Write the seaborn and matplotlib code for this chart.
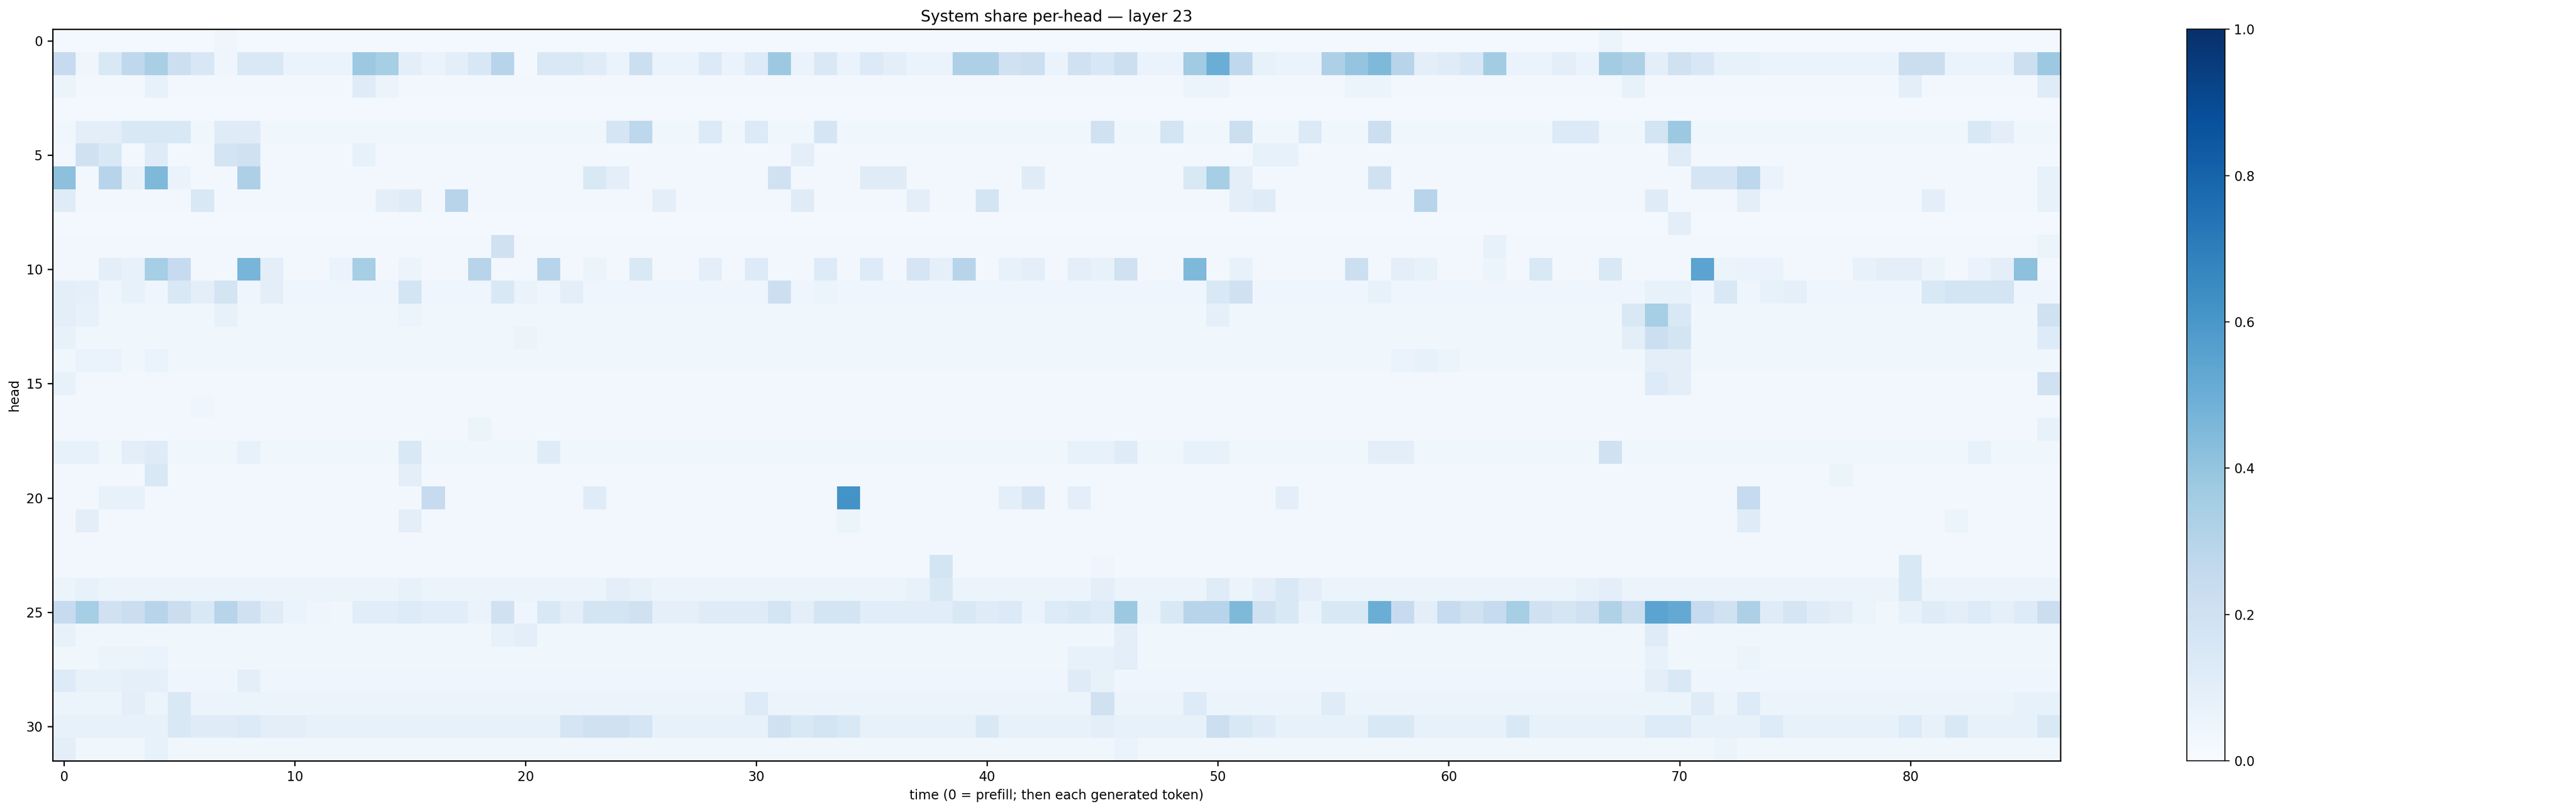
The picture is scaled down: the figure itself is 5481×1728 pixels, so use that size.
import numpy as np
import matplotlib
matplotlib.use("Agg")
import matplotlib.pyplot as plt
import seaborn as sns

n_heads = 32
n_steps = 87

# typical (background) share per head
row_base = [0.02, 0.07, 0.03, 0.02, 0.04, 0.03, 0.03, 0.03, 0.02, 0.03,
            0.03, 0.05, 0.04, 0.04, 0.04, 0.03, 0.03, 0.03, 0.04, 0.03,
            0.03, 0.03, 0.03, 0.03, 0.06, 0.11, 0.04, 0.04, 0.05, 0.06,
            0.08, 0.04]

# visible brighter cells: head -> {time: share}
peaks = {
    0: {7: 0.05, 67: 0.06},
    1: {0: 0.25, 1: 0.05, 2: 0.15, 3: 0.27, 4: 0.34, 5: 0.22, 6: 0.16, 7: 0.05, 8: 0.15, 9: 0.15,
        13: 0.38, 14: 0.35, 15: 0.1, 17: 0.1, 18: 0.16, 19: 0.3, 20: 0.02, 21: 0.15, 22: 0.15,
        23: 0.12, 25: 0.22, 28: 0.14, 30: 0.13, 31: 0.38, 33: 0.15, 35: 0.14, 36: 0.1,
        39: 0.33, 40: 0.33, 41: 0.2, 42: 0.22, 44: 0.2, 45: 0.16, 46: 0.22, 49: 0.37, 50: 0.5,
        51: 0.27, 52: 0.08, 55: 0.33, 56: 0.4, 57: 0.45, 58: 0.3, 59: 0.1, 60: 0.12, 61: 0.16,
        62: 0.36, 65: 0.1, 67: 0.36, 68: 0.33, 69: 0.1, 70: 0.2, 71: 0.16, 72: 0.08, 73: 0.08,
        80: 0.23, 81: 0.23, 85: 0.22, 86: 0.38},
    2: {0: 0.06, 4: 0.08, 13: 0.12, 14: 0.06, 49: 0.06, 50: 0.06, 56: 0.06, 57: 0.06,
        68: 0.08, 80: 0.1, 86: 0.12},
    4: {1: 0.1, 2: 0.1, 3: 0.15, 4: 0.15, 5: 0.15, 7: 0.12, 8: 0.12, 24: 0.17, 25: 0.28,
        28: 0.14, 30: 0.14, 33: 0.17, 45: 0.2, 48: 0.18, 51: 0.22, 54: 0.14, 57: 0.22,
        65: 0.14, 66: 0.14, 69: 0.18, 70: 0.38, 83: 0.15, 84: 0.1},
    5: {1: 0.2, 2: 0.15, 4: 0.12, 7: 0.18, 8: 0.2, 13: 0.08, 32: 0.1, 52: 0.08, 53: 0.08, 70: 0.12},
    6: {0: 0.42, 2: 0.3, 3: 0.08, 4: 0.45, 5: 0.07, 8: 0.33, 23: 0.15, 24: 0.1, 31: 0.2,
        35: 0.12, 36: 0.12, 42: 0.12, 49: 0.15, 50: 0.35, 51: 0.1, 57: 0.2,
        71: 0.17, 72: 0.17, 73: 0.28, 74: 0.07, 86: 0.08},
    7: {0: 0.12, 6: 0.15, 14: 0.1, 15: 0.12, 17: 0.3, 26: 0.1, 32: 0.12, 37: 0.1, 40: 0.18,
        51: 0.1, 52: 0.12, 59: 0.3, 69: 0.12, 73: 0.1, 81: 0.1, 86: 0.08},
    8: {70: 0.1},
    9: {19: 0.2, 62: 0.08, 86: 0.06},
    10: {2: 0.1, 3: 0.08, 4: 0.35, 5: 0.25, 8: 0.47, 9: 0.1, 12: 0.07, 13: 0.35, 15: 0.06,
         18: 0.3, 21: 0.3, 23: 0.06, 25: 0.15, 28: 0.1, 30: 0.13, 33: 0.13, 35: 0.13, 37: 0.17,
         38: 0.09, 39: 0.3, 41: 0.08, 42: 0.1, 44: 0.1, 45: 0.08, 46: 0.2, 49: 0.45, 51: 0.08,
         56: 0.22, 58: 0.1, 59: 0.08, 62: 0.06, 64: 0.15, 67: 0.15, 71: 0.55, 72: 0.06,
         73: 0.07, 74: 0.07, 78: 0.08, 79: 0.1, 80: 0.1, 81: 0.06, 83: 0.07, 84: 0.1, 85: 0.42},
    11: {0: 0.1, 1: 0.09, 3: 0.08, 5: 0.15, 6: 0.1, 7: 0.18, 9: 0.1, 15: 0.18, 19: 0.15,
         20: 0.07, 22: 0.1, 31: 0.22, 33: 0.06, 50: 0.15, 51: 0.2, 57: 0.08,
         69: 0.08, 70: 0.08, 72: 0.15, 74: 0.08, 75: 0.09, 81: 0.15, 82: 0.18, 83: 0.18, 84: 0.18},
    12: {0: 0.1, 1: 0.08, 7: 0.08, 15: 0.06, 50: 0.09, 68: 0.15, 69: 0.35, 70: 0.15, 86: 0.2},
    13: {0: 0.08, 20: 0.06, 68: 0.1, 69: 0.22, 70: 0.18, 86: 0.13},
    14: {1: 0.07, 2: 0.07, 4: 0.07, 58: 0.07, 59: 0.08, 60: 0.06, 69: 0.1, 70: 0.1},
    15: {0: 0.08, 69: 0.13, 70: 0.1, 86: 0.2},
    16: {6: 0.05},
    17: {18: 0.06, 86: 0.08},
    18: {0: 0.08, 1: 0.08, 3: 0.1, 4: 0.12, 8: 0.08, 15: 0.15, 21: 0.12, 44: 0.08, 45: 0.08,
         46: 0.12, 49: 0.08, 50: 0.08, 57: 0.1, 58: 0.1, 67: 0.2, 83: 0.08},
    19: {4: 0.15, 15: 0.1, 77: 0.06},
    20: {2: 0.08, 3: 0.08, 16: 0.25, 23: 0.12, 34: 0.62, 41: 0.1, 42: 0.17, 44: 0.1,
         53: 0.1, 73: 0.25},
    21: {1: 0.1, 15: 0.1, 34: 0.06, 73: 0.12, 82: 0.06},
    23: {38: 0.18, 45: 0.05, 80: 0.15},
    24: {1: 0.08, 15: 0.08, 24: 0.1, 25: 0.08, 37: 0.08, 38: 0.15, 45: 0.1, 50: 0.12,
         52: 0.1, 53: 0.15, 54: 0.1, 66: 0.08, 67: 0.1, 80: 0.15},
    25: {0: 0.25, 1: 0.35, 2: 0.2, 3: 0.23, 4: 0.3, 5: 0.23, 6: 0.15, 7: 0.3, 8: 0.2,
         9: 0.12, 10: 0.07, 11: 0.05, 12: 0.04, 15: 0.13, 18: 0.07, 19: 0.2, 20: 0.05,
         21: 0.15, 22: 0.1, 23: 0.18, 24: 0.18, 25: 0.2, 26: 0.09, 27: 0.09, 28: 0.12,
         29: 0.12, 30: 0.12, 31: 0.18, 32: 0.1, 33: 0.18, 34: 0.18, 39: 0.15, 40: 0.12,
         41: 0.14, 42: 0.07, 43: 0.13, 44: 0.15, 45: 0.13, 46: 0.38, 47: 0.07, 48: 0.15,
         49: 0.3, 50: 0.3, 51: 0.45, 52: 0.2, 53: 0.15, 54: 0.07, 55: 0.15, 56: 0.15,
         57: 0.5, 58: 0.25, 59: 0.1, 60: 0.25, 61: 0.2, 62: 0.25, 63: 0.35, 64: 0.2,
         65: 0.17, 66: 0.2, 67: 0.32, 68: 0.23, 69: 0.55, 70: 0.52, 71: 0.25, 72: 0.2,
         73: 0.33, 74: 0.12, 75: 0.17, 76: 0.12, 77: 0.1, 78: 0.06, 79: 0.04, 80: 0.08,
         81: 0.12, 82: 0.1, 83: 0.13, 84: 0.09, 85: 0.13, 86: 0.23},
    26: {0: 0.08, 19: 0.08, 20: 0.1, 46: 0.1, 69: 0.12},
    27: {2: 0.06, 3: 0.06, 4: 0.07, 44: 0.08, 45: 0.08, 46: 0.1, 69: 0.08, 73: 0.06},
    28: {0: 0.13, 1: 0.08, 2: 0.08, 3: 0.09, 4: 0.09, 8: 0.1, 44: 0.12, 45: 0.08,
         69: 0.1, 70: 0.15},
    29: {3: 0.1, 5: 0.15, 30: 0.13, 45: 0.2, 49: 0.13, 55: 0.12, 71: 0.12, 73: 0.13,
         85: 0.08, 86: 0.08},
    30: {0: 0.08, 5: 0.15, 6: 0.12, 7: 0.12, 8: 0.14, 9: 0.1, 10: 0.1, 22: 0.17, 23: 0.2,
         24: 0.2, 25: 0.17, 31: 0.2, 32: 0.15, 33: 0.18, 34: 0.15, 40: 0.15, 45: 0.1,
         50: 0.22, 51: 0.15, 52: 0.12, 57: 0.15, 58: 0.15, 63: 0.15, 69: 0.13, 70: 0.13,
         74: 0.13, 80: 0.13, 82: 0.15, 86: 0.15},
    31: {0: 0.1, 4: 0.08, 46: 0.07, 72: 0.06},
}

share = np.array([[row_base[h]] * n_steps for h in range(n_heads)], dtype=float)
for h, cells in peaks.items():
    for t, v in cells.items():
        share[h, t] = v

fig = plt.figure(figsize=(27.405, 8.64), dpi=200)
ax = fig.add_axes([0.0204, 0.063, 0.7794, 0.901])
cax = fig.add_axes([0.849, 0.063, 0.0147, 0.901])

sns.heatmap(share, ax=ax, cbar_ax=cax, cmap="Blues", vmin=0, vmax=1,
            xticklabels=False, yticklabels=False)

ax.set_xticks(np.arange(0, n_steps, 10) + 0.5)
ax.set_xticklabels([str(i) for i in range(0, n_steps, 10)], rotation=0)
ax.set_yticks(np.arange(0, n_heads, 5) + 0.5)
ax.set_yticklabels([str(i) for i in range(0, n_heads, 5)], rotation=0)
ax.tick_params(length=4, width=1)
for s in ax.spines.values():
    s.set_visible(True)
    s.set_color("black")
    s.set_linewidth(1)

cax.set_yticks([0, 0.2, 0.4, 0.6, 0.8, 1.0])
cax.set_yticklabels(["0.0", "0.2", "0.4", "0.6", "0.8", "1.0"])
for s in cax.spines.values():
    s.set_visible(True)
    s.set_color("black")

ax.set_title("System share per-head — layer 23")
ax.set_xlabel("time (0 = prefill; then each generated token)")
ax.set_ylabel("head")

fig.savefig("out.png", dpi=200)
